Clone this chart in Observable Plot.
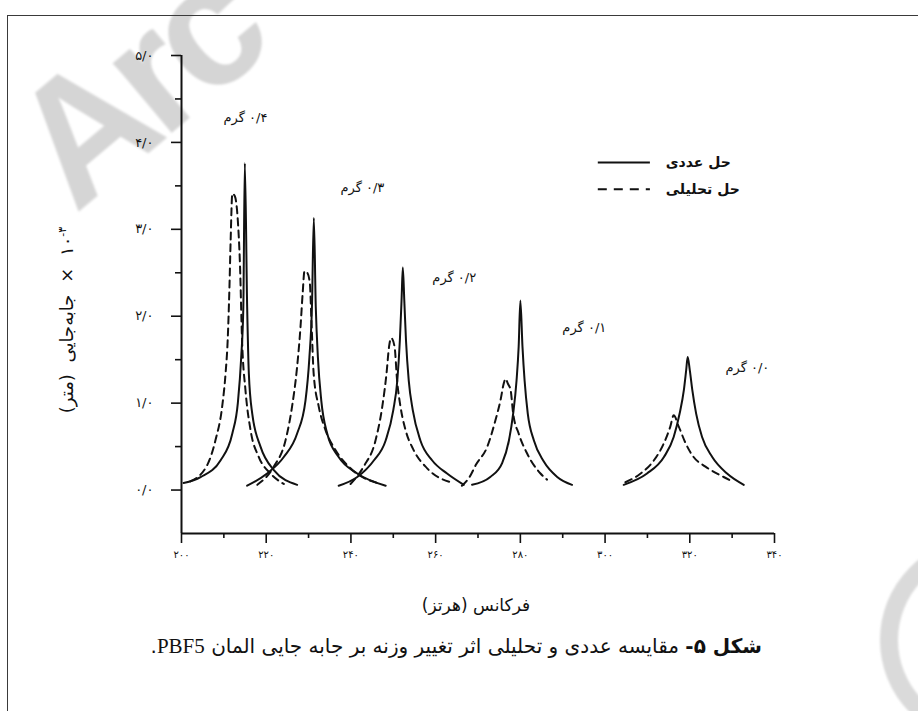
<!DOCTYPE html>
<html>
<head>
<meta charset="utf-8">
<script src="https://cdn.jsdelivr.net/npm/d3@7"></script>
<script src="https://cdn.jsdelivr.net/npm/@observablehq/plot@0.6"></script>
<style>
  html, body { margin: 0; padding: 0; background: #fff; }
  #page { position: relative; width: 918px; height: 711px; overflow: hidden; background: #fff; }
  #wm { position: absolute; left: 0; top: 0; z-index: 0; }
  #frame { position: absolute; left: 7px; top: 15px; width: 920px; height: 710px;
           border-left: 1.6px solid #3a3a3a; border-top: 1.6px solid #3a3a3a; z-index: 1; }
  #chart { position: absolute; left: 0; top: 0; z-index: 2; }
  #chart svg { background: transparent; }
  #chart [aria-label="x-axis tick label"] text { letter-spacing: 4px; }
  .ov { position: absolute; z-index: 3; white-space: nowrap; font-family: "DejaVu Sans"; color: #111; }
  #ytitle { left: 66px; top: 320px; transform: translate(-50%, -50%) rotate(-90deg); font-size: 18px; word-spacing: 6px; }
  #ytitle sup { font-size: 11px; }
  #xtitle { left: 476px; top: 605px; transform: translate(-50%, -50%); font-size: 17px; }
  #caption { right: 156px; top: 634px; font-size: 20px; }
  #caption .lat { font-family: "Liberation Serif"; font-size: 21px; }
</style>
</head>
<body>
<div id="page">
  <svg id="wm" width="918" height="711">
    <defs><filter id="soft"><feGaussianBlur stdDeviation="1.2"/></filter></defs>
    <text transform="translate(75,214) rotate(-40)" font-family="Liberation Sans" font-weight="bold"
          font-size="172" letter-spacing="-10" fill="#d5d5d5" filter="url(#soft)">Arc</text>
    <circle cx="983" cy="640" r="94" fill="none" stroke="#dadada" stroke-width="18" filter="url(#soft)"/>
  </svg>
  <div id="frame"></div>
  <div id="chart"></div>
  <div id="ytitle" class="ov" dir="rtl">۱۰<sup>-۳</sup> × جابه‌جایی (متر)</div>
  <div id="xtitle" class="ov" dir="rtl">فرکانس (هرتز)</div>
  <div id="caption" class="ov" dir="rtl"><b>شکل ۵-</b> مقایسه عددی و تحلیلی اثر تغییر وزنه بر جابه جایی المان <span class="lat">PBF5</span>.</div>
</div>
<script>
// ---- data: [frequency (Hz), displacement (x10^-3 m)] ----
const num04 = [[200.5,0.08],[204.5,0.15],[209.2,0.34],[212.0,0.65],[213.3,1.0],[214.1,1.53],[214.6,2.11],[214.95,3.76],[215.5,2.11],[215.9,1.34],[216.7,0.88],[218.65,0.5],[221.8,0.23],[227.3,0.06]];
const ana04 = [[202.1,0.10],[206.1,0.29],[208.0,0.57],[209.6,0.96],[210.4,1.34],[210.9,1.72],[211.3,2.30],[211.6,2.87],[212.0,3.41],[212.6,3.38],[213.3,3.10],[213.8,2.60],[214.3,1.72],[215.1,1.15],[216.3,0.69],[218.25,0.38],[221.0,0.19],[224.15,0.07]];
const num03 = [[215.5,0.05],[220.2,0.19],[224.15,0.38],[227.3,0.65],[229.27,1.03],[230.2,1.53],[230.8,2.11],[231.24,3.13],[231.7,2.11],[232.2,1.53],[233.0,1.03],[234.4,0.65],[237.1,0.38],[241.5,0.19],[248.2,0.05]];
const ana03 = [[217.9,0.06],[221.8,0.27],[224.55,0.57],[226.1,0.96],[227.3,1.42],[228.1,1.88],[228.6,2.26],[229.04,2.52],[229.7,2.50],[230.3,2.38],[230.7,1.92],[231.2,1.34],[232.4,0.96],[234.0,0.69],[236.35,0.46],[239.9,0.25],[247.0,0.07]];
const num02 = [[237.1,0.05],[241.5,0.15],[245.4,0.34],[248.2,0.57],[250.0,0.92],[250.95,1.26],[251.55,1.72],[251.95,2.18],[252.25,2.56],[252.6,2.18],[253.0,1.72],[253.65,1.26],[254.6,0.92],[256.4,0.57],[259.2,0.34],[262.7,0.19],[266.65,0.06]];
const ana02 = [[239.9,0.07],[243.0,0.27],[245.8,0.57],[247.4,0.96],[248.4,1.34],[249.0,1.65],[249.5,1.75],[250.3,1.65],[250.9,1.26],[251.7,0.96],[252.9,0.69],[254.8,0.46],[258.0,0.25],[264.3,0.08]];
const num01 = [[268.6,0.06],[272.9,0.15],[275.7,0.31],[277.3,0.57],[278.3,0.88],[279.1,1.26],[279.6,1.65],[280.0,2.18],[280.5,1.65],[281.0,1.26],[281.75,0.88],[283.2,0.57],[285.5,0.33],[288.7,0.15],[292.2,0.06]];
const ana01 = [[266.2,0.05],[268.0,0.15],[269.5,0.29],[272.2,0.50],[274.1,0.80],[275.3,1.03],[276.1,1.23],[276.5,1.28],[277.1,1.22],[277.7,1.15],[278.3,0.88],[279.6,0.65],[281.6,0.42],[284.75,0.19],[286.3,0.12]];
const num00 = [[304.4,0.06],[309.9,0.19],[313.9,0.38],[316.2,0.61],[317.6,0.88],[318.6,1.15],[319.15,1.38],[319.5,1.53],[320.0,1.38],[320.6,1.15],[321.5,0.88],[322.9,0.61],[325.3,0.38],[328.8,0.19],[332.75,0.06]];
const ana00 = [[304.8,0.09],[308.4,0.19],[311.5,0.34],[313.9,0.54],[315.4,0.73],[316.2,0.86],[317.4,0.73],[319.0,0.54],[320.9,0.38],[323.7,0.27],[328.0,0.15],[329.6,0.11]];

const massLabels = ["۰/۴ گرم", "۰/۳ گرم", "۰/۲ گرم", "۰/۱ گرم", "۰/۰ گرم"];
const massLabelFreq = [215.1, 242.7, 264.4, 295.1, 333.6];
const massLabelDisp = [4.28, 3.48, 2.44, 1.87, 1.41];

const legendNames = ["حل عددی", "حل تحلیلی"];
const legendDisp = [3.77, 3.46];
const legendLineFreq = [298.4, 310.7];
const legendTextFreq = 314.3;

const xMajor = [200, 220, 240, 260, 280, 300, 320, 340];
const xMinor = [210, 230, 250, 270, 290, 310, 330];
const yMajor = [0, 1, 2, 3, 4, 5];
const yMinor = [0.5, 1.5, 2.5, 3.5, 4.5];

// ---- build tables ----
const fa = v => String(v).replace(/[0-9]/g, c => "۰۱۲۳۴۵۶۷۸۹"[+c]);
const RLM = "\u200F";
const numeric = [num04, num03, num02, num01, num00];
const analytic = [ana04, ana03, ana02, ana01, ana00];
const toRows = (sets, kind) => sets.flatMap((pts, k) => pts.map(([f, y]) => ({f, y, key: kind + k})));
const numRows = toRows(numeric, "n");
const anaRows = toRows(analytic, "a");
const FONT = "DejaVu Sans";

const chart = Plot.plot({
  width: 918,
  height: 600,
  marginLeft: 181,
  marginRight: 144,
  marginTop: 55,
  marginBottom: 67,
  x: {domain: [200, 340]},
  y: {domain: [-0.5, 5]},
  style: {background: "transparent", color: "#111", fontFamily: FONT, overflow: "visible"},
  marks: [
    Plot.axisX({ticks: xMajor, tickSize: 10, tickPadding: 7, tickFormat: fa, fontSize: 10, label: null, strokeWidth: 1.6}),
    Plot.axisX({ticks: xMinor, tickSize: 5, tickFormat: () => "", label: null, strokeWidth: 1.6}),
    Plot.axisY({ticks: yMajor, tickSize: 10, tickPadding: 18, tickFormat: d => fa(d) + "/۰", fontSize: 13, label: null, strokeWidth: 1.6}),
    Plot.axisY({ticks: yMinor, tickSize: 6, tickFormat: () => "", label: null, strokeWidth: 1.6}),
    Plot.ruleX([200], {y1: -0.5, y2: 5, strokeWidth: 2}),
    Plot.ruleY([-0.5], {strokeWidth: 2}),
    Plot.line(numRows, {x: "f", y: "y", z: "key", curve: "monotone-x", stroke: "#111", strokeWidth: 2}),
    Plot.line(anaRows, {x: "f", y: "y", z: "key", curve: "monotone-x", stroke: "#111", strokeWidth: 2, strokeDasharray: "7,5"}),
    Plot.text(massLabels, {x: (d, i) => massLabelFreq[i], y: (d, i) => massLabelDisp[i], text: d => RLM + d, fontSize: 13, fontFamily: FONT}),
    Plot.ruleY([legendDisp[0]], {x1: legendLineFreq[0], x2: legendLineFreq[1], stroke: "#111", strokeWidth: 2}),
    Plot.ruleY([legendDisp[1]], {x1: legendLineFreq[0], x2: legendLineFreq[1], stroke: "#111", strokeWidth: 2, strokeDasharray: "9,7"}),
    Plot.text(legendNames, {x: legendTextFreq, y: (d, i) => legendDisp[i], text: d => d, textAnchor: "start", fontSize: 14, fontWeight: "bold", fontFamily: FONT})
  ]
});
document.getElementById("chart").appendChild(chart);
</script>
</body>
</html>
